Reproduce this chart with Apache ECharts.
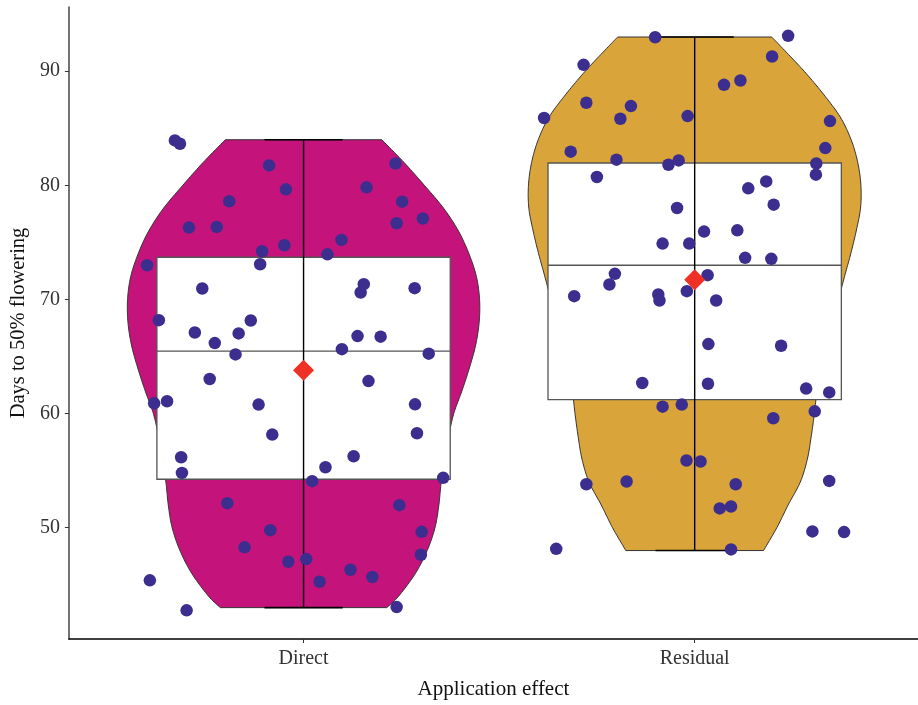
<!DOCTYPE html>
<html><head><meta charset="utf-8">
<script src="https://cdn.jsdelivr.net/npm/echarts@6/dist/echarts.min.js"></script>
<style>html,body{margin:0;padding:0;background:#fff}#c{width:918px;height:705px}</style>
</head><body><div id="c"></div>
<script>
const categories = ['Direct', 'Residual'];
const yTickValues = [50, 60, 70, 80, 90];
const xTickValues = [1, 2];

// jittered observations (x = category position + jitter)
const directX = [0.671,0.684,0.912,0.955,0.810,0.707,0.778,0.894,0.951,0.889,0.600,0.741,0.630,0.722,0.834,0.865,0.773,0.826,1.235,1.161,1.252,1.305,1.238,1.097,1.061,1.154,1.146,1.284,1.138,1.197,1.098,1.320,0.760,1.166,0.618,0.651,0.885,1.285,0.920,1.290,0.687,0.689,1.128,1.056,1.022,1.357,0.805,1.245,0.915,1.302,0.849,1.300,0.961,1.007,1.120,1.176,1.041,0.607,0.701,1.238];
const directY = [83.94,83.65,81.75,79.65,78.60,76.30,76.36,74.23,74.75,73.09,73.00,70.96,68.19,67.11,67.03,68.16,66.18,65.19,81.92,79.83,78.57,77.09,76.68,75.22,73.96,71.34,70.61,70.99,66.79,66.74,65.65,65.25,63.03,62.85,60.90,61.08,60.79,60.81,58.16,58.28,56.18,54.80,56.26,55.30,54.08,54.37,52.15,51.98,49.79,49.64,48.28,47.63,47.02,47.25,46.32,45.68,45.27,45.39,42.76,43.05];
const residualX = [1.899,2.239,2.198,1.716,2.075,2.117,1.723,1.837,1.810,1.615,1.982,2.346,1.683,2.334,1.800,1.933,1.959,2.311,2.310,1.750,2.183,2.137,2.202,1.955,2.024,2.109,1.918,1.986,2.129,2.196,1.796,1.782,2.033,1.692,1.907,1.910,1.980,2.055,2.035,2.221,1.866,2.034,2.285,2.344,1.918,1.967,2.307,2.201,1.979,2.015,1.723,1.826,2.105,2.344,2.064,2.093,2.301,2.382,1.646,2.093];
const residualY = [92.98,93.10,91.29,90.56,88.81,89.19,87.24,86.95,85.84,85.90,86.07,85.63,82.95,83.27,82.25,81.81,82.19,81.92,80.94,80.73,80.35,79.74,78.31,78.02,75.95,76.06,74.90,74.90,73.65,73.56,72.25,71.31,72.13,70.29,70.44,69.91,70.73,69.91,66.09,65.95,62.68,62.62,62.19,61.86,60.61,60.79,60.20,59.59,55.89,55.80,53.81,54.05,53.81,54.10,51.69,51.86,49.68,49.62,48.15,48.10];

// box statistics per category
const boxMin = [43.0, 48.0];
const boxQ1 = [54.25, 61.22];
const boxMedian = [65.48, 73.0];
const boxQ3 = [73.70, 81.96];
const boxMax = [84.0, 93.0];
const means = [63.81, 71.72];

// violin density outline (half width in category units)
const directViolinLevels = [43,44,46,48,50,52,54,56,58,60,62,64,66,68,70,72,74,76,78,80,82,84];
const directViolinHalf = [0.213,0.243,0.286,0.316,0.336,0.346,0.352,0.362,0.371,0.384,0.405,0.424,0.440,0.449,0.450,0.442,0.423,0.396,0.358,0.309,0.257,0.200];
const residualViolinLevels = [48,50,52,54,56,58,60,62,64,66,68,70,72,74,76,78,80,82,84,86,88,90,92,93];
const residualViolinHalf = [0.176,0.210,0.239,0.270,0.288,0.298,0.306,0.313,0.325,0.339,0.354,0.368,0.383,0.399,0.413,0.424,0.425,0.417,0.400,0.372,0.329,0.280,0.225,0.197];

const violinColors = ['#C5137C', '#D9A43A'];
const pointColor = '#3C2E8F';
const meanColor = '#EE3124';
const FONT = '"Liberation Serif", "DejaVu Serif", serif';

const violinLevels = [directViolinLevels, residualViolinLevels];
const violinHalf = [directViolinHalf, residualViolinHalf];

function catmull(pts, steps) {
  const out = [];
  const n = pts.length;
  for (let i = 0; i < n - 1; i++) {
    const p0 = pts[Math.max(0, i - 1)], p1 = pts[i], p2 = pts[i + 1], p3 = pts[Math.min(n - 1, i + 2)];
    for (let s = 0; s < steps; s++) {
      const t = s / steps, t2 = t * t, t3 = t2 * t;
      const f = (a, b, c, d) => 0.5 * ((2 * b) + (-a + c) * t + (2 * a - 5 * b + 4 * c - d) * t2 + (-a + 3 * b - 3 * c + d) * t3);
      out.push([f(p0[0], p1[0], p2[0], p3[0]), f(p0[1], p1[1], p2[1], p3[1])]);
    }
  }
  out.push(pts[n - 1]);
  return out;
}

function violinRender(params, api) {
  const i = params.dataIndex;
  const cat = api.value(0);
  const lv = violinLevels[i], hw = violinHalf[i];
  const unit = api.size([1, 0])[0];
  const cx = api.coord([cat, lv[0]])[0];
  const right = lv.map((v, k) => {
    const p = api.coord([cat, v]);
    return [p[0] + hw[k] * unit, p[1]];
  });
  const sm = catmull(right, 10);
  const left = sm.map(p => [2 * cx - p[0], p[1]]).reverse();
  return {
    type: 'polygon',
    shape: { points: sm.concat(left) },
    style: { fill: violinColors[i], stroke: '#333', lineWidth: 1 }
  };
}

function boxRender(params, api) {
  const cat = api.value(0);
  const unit = api.size([1, 0])[0];
  const half = 0.375 * unit, cap = 0.1 * unit;
  const pMin = api.coord([cat, api.value(1)]);
  const pQ1 = api.coord([cat, api.value(2)]);
  const pMed = api.coord([cat, api.value(3)]);
  const pQ3 = api.coord([cat, api.value(4)]);
  const pMax = api.coord([cat, api.value(5)]);
  const cx = pMed[0];
  return {
    type: 'group',
    children: [
      { type: 'rect', shape: { x: cx - half, y: pQ3[1], width: 2 * half, height: pQ1[1] - pQ3[1] },
        style: { fill: '#fff', stroke: '#555', lineWidth: 1.3 } },
      { type: 'line', shape: { x1: cx - half, y1: pMed[1], x2: cx + half, y2: pMed[1] },
        style: { stroke: '#555', lineWidth: 1.3 } },
      { type: 'line', shape: { x1: cx, y1: pMax[1], x2: cx, y2: pMin[1] },
        style: { stroke: '#000', lineWidth: 1.4 } },
      { type: 'line', shape: { x1: cx - cap, y1: pMax[1], x2: cx + cap, y2: pMax[1] },
        style: { stroke: '#000', lineWidth: 1.6 } },
      { type: 'line', shape: { x1: cx - cap, y1: pMin[1], x2: cx + cap, y2: pMin[1] },
        style: { stroke: '#000', lineWidth: 1.6 } }
    ]
  };
}

const chart = echarts.init(document.getElementById('c'), null, { renderer: 'canvas' });
chart.setOption({
  animation: false,
  backgroundColor: '#fff',
  grid: { left: 68, right: 0, top: 7, bottom: 65, containLabel: false },
  xAxis: {
    type: 'value', min: 0.4, max: 2.571,
    axisLine: { show: true, onZero: false, lineStyle: { color: '#000', width: 1.5 } },
    axisTick: { show: true, customValues: xTickValues, length: 4, lineStyle: { color: '#333', width: 1 } },
    axisLabel: { customValues: xTickValues, formatter: v => categories[Math.round(v) - 1] || '',
      fontFamily: FONT, fontSize: 20, color: '#333', margin: 10 },
    splitLine: { show: false },
    name: 'Application effect', nameLocation: 'middle', nameGap: 40,
    nameTextStyle: { fontFamily: FONT, fontSize: 21, color: '#111' }
  },
  yAxis: {
    type: 'value', min: 40.25, max: 95.63,
    axisLine: { show: true, onZero: false, lineStyle: { color: '#444', width: 1.5 } },
    axisTick: { show: true, customValues: yTickValues, length: 4, lineStyle: { color: '#333', width: 1 } },
    axisLabel: { customValues: yTickValues, fontFamily: FONT, fontSize: 20, color: '#333', margin: 9 },
    splitLine: { show: false },
    name: 'Days to 50% flowering', nameLocation: 'middle', nameGap: 36, nameRotate: 90,
    nameTextStyle: { fontFamily: FONT, fontSize: 20.5, color: '#111' }
  },
  series: [
    { type: 'custom', silent: true, renderItem: violinRender, data: categories.map((c, i) => [i + 1]), z: 1 },
    { type: 'custom', silent: true, renderItem: boxRender,
      data: categories.map((c, i) => [i + 1, boxMin[i], boxQ1[i], boxMedian[i], boxQ3[i], boxMax[i]]), z: 2 },
    { type: 'scatter', silent: true, symbol: 'circle', symbolSize: 12.5,
      itemStyle: { color: pointColor, opacity: 1 },
      data: directX.map((x, k) => [x, directY[k]]), z: 3 },
    { type: 'scatter', silent: true, symbol: 'circle', symbolSize: 12.5,
      itemStyle: { color: pointColor, opacity: 1 },
      data: residualX.map((x, k) => [x, residualY[k]]), z: 3 },
    { type: 'scatter', silent: true, symbol: 'diamond', symbolSize: [21, 21],
      itemStyle: { color: meanColor, opacity: 1 },
      data: means.map((m, i) => [i + 1, m]), z: 4 }
  ]
});
</script></body></html>
